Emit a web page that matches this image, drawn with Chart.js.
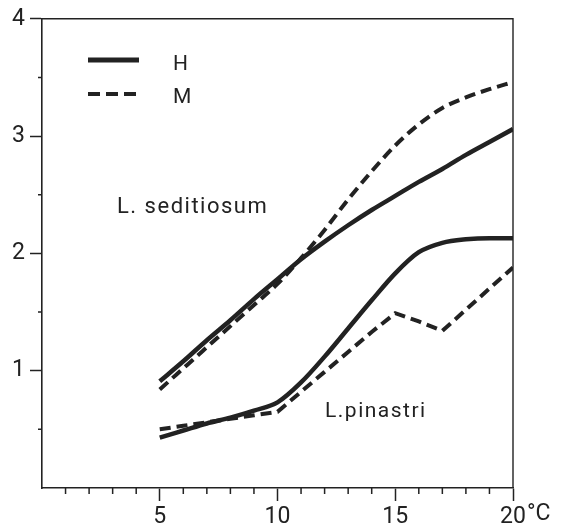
<!DOCTYPE html>
<html>
<head>
<meta charset="utf-8">
<script src="https://cdn.jsdelivr.net/npm/chart.js@4.4.0/dist/chart.umd.min.js"></script>
<style>
  html,body{margin:0;padding:0;background:#fff;}
  #wrap{width:561px;height:530px;}
</style>
</head>
<body>
<div id="wrap"><canvas id="chart" width="561" height="530"></canvas></div>
<script>
// temperatures (°C) and values
const temps = [5,6,7,8,9,10,11,12,13,14,15,16,17,18,19,20];
const seditiosumH = [0.91,1.08,1.26,1.43,1.61,1.78,1.95,2.10,2.24,2.37,2.49,2.61,2.72,2.84,2.95,3.06];
const seditiosumM = [0.84,1.02,1.20,1.38,1.56,1.74,1.96,2.20,2.46,2.70,2.92,3.10,3.24,3.33,3.40,3.46];
const pinastriH   = [0.43,0.49,0.55,0.60,0.66,0.73,0.90,1.12,1.36,1.60,1.83,2.01,2.09,2.12,2.13,2.13];
const pinastriM   = [0.50,0.53,0.56,0.59,0.62,0.65,0.82,0.99,1.16,1.33,1.49,1.42,1.34,1.52,1.70,1.88];

const xTickLabels = ['5','10','15','20'];
const yTickLabels = ['1','2','3','4'];
const legendLabels = ['H','M'];

const INK = '#222';
const FONT = 'Roboto, "DejaVu Sans", sans-serif';
const TICK_FONT = 23;

function pts(ys){ return temps.map((t,i)=>({x:t, y:ys[i]})); }

const solid = {borderColor:INK, borderWidth:4.5, pointRadius:0, fill:false, cubicInterpolationMode:'monotone'};
const dashed = {borderColor:INK, borderWidth:4, pointRadius:0, fill:false, borderDash:[11,6], cubicInterpolationMode:'monotone'};

// extra drawing: box, minor ticks, legend, species labels
const extras = {
  id:'extras',
  afterDraw(chart){
    const ctx = chart.ctx, a = chart.chartArea;
    const xs = chart.scales.x, ys = chart.scales.y;
    ctx.save();
    ctx.strokeStyle = INK;
    ctx.lineWidth = 1.4;
    ctx.beginPath();
    ctx.moveTo(a.left, a.top); ctx.lineTo(a.right, a.top); ctx.lineTo(a.right, a.bottom);
    ctx.stroke();

    // minor ticks
    ctx.lineWidth = 1.5;
    ctx.beginPath();
    for(let v=1; v<20; v++){
      if(v%5===0) continue;
      const px = xs.getPixelForValue(v);
      ctx.moveTo(px, a.bottom); ctx.lineTo(px, a.bottom+6);
    }
    for(let v=0.5; v<4; v+=1){
      const py = ys.getPixelForValue(v);
      ctx.moveTo(a.left, py); ctx.lineTo(a.left-4, py);
    }
    ctx.stroke();

    ctx.fillStyle = INK;
    // degree unit after the last x label, same line as the tick labels
    ctx.font = TICK_FONT + 'px ' + FONT;
    ctx.textAlign = 'left';
    ctx.textBaseline = 'top';
    const w20 = ctx.measureText('20').width;
    ctx.fillText('°C', xs.getPixelForValue(20) + w20/2 + 1, a.bottom + 13 + 2);

    ctx.textBaseline = 'alphabetic';
    // legend
    ctx.lineWidth = 5;
    ctx.beginPath(); ctx.moveTo(88,60); ctx.lineTo(139,60); ctx.stroke();
    ctx.lineWidth = 4;
    ctx.setLineDash([12,6]);
    ctx.beginPath(); ctx.moveTo(88,94); ctx.lineTo(137,94); ctx.stroke();
    ctx.setLineDash([]);
    ctx.font = '21px ' + FONT;
    ctx.fillText(legendLabels[0], 173, 70);
    ctx.fillText(legendLabels[1], 173, 103);

    // species labels
    ctx.letterSpacing = '1.5px';
    ctx.font = '22px ' + FONT;
    ctx.fillText('L. seditiosum', 117, 213);
    ctx.font = '21px ' + FONT;
    ctx.fillText('L.pinastri', 325, 417);
    ctx.restore();
  }
};

new Chart(document.getElementById('chart'), {
  type:'line',
  data:{
    datasets:[
      Object.assign({label:'L. seditiosum H', data:pts(seditiosumH)}, solid),
      Object.assign({label:'L. seditiosum M', data:pts(seditiosumM)}, dashed),
      Object.assign({label:'L. pinastri H', data:pts(pinastriH)}, solid),
      Object.assign({label:'L. pinastri M', data:pts(pinastriM)}, dashed, {tension:0, cubicInterpolationMode:'default'})
    ]
  },
  options:{
    responsive:false,
    animation:false,
    layout:{padding:{top:14, right:48, left:0, bottom:0}},
    plugins:{legend:{display:false}, tooltip:{enabled:false}},
    scales:{
      x:{
        type:'linear', min:0, max:20,
        afterFit:s=>{ s.height = 42; },
        border:{color:INK, width:1.6},
        grid:{drawOnChartArea:false, tickLength:13, tickWidth:1.5,
              tickColor:c=> c.tick && c.tick.value===0 ? 'rgba(0,0,0,0)' : INK},
        ticks:{stepSize:5, color:INK, padding:2, maxRotation:0, font:{family:FONT, size:TICK_FONT},
               callback:v=> v===0 ? '' : xTickLabels[v/5-1]}
      },
      y:{
        type:'linear', min:0, max:4,
        afterFit:s=>{ s.width = 42; },
        border:{color:INK, width:1.6},
        grid:{drawOnChartArea:false, tickLength:12, tickWidth:1.5,
              tickColor:c=> c.tick && c.tick.value===0 ? 'rgba(0,0,0,0)' : INK},
        ticks:{stepSize:1, color:INK, padding:5, font:{family:FONT, size:TICK_FONT},
               callback:v=> v===0 ? '' : yTickLabels[v-1]}
      }
    }
  },
  plugins:[extras]
});
</script>
</body>
</html>
